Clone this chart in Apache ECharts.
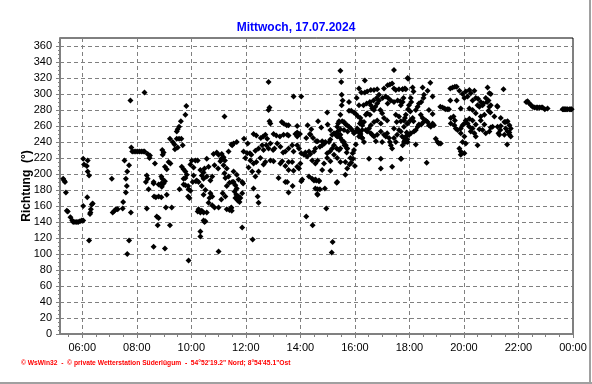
<!DOCTYPE html>
<html>
<head>
<meta charset="utf-8">
<script src="https://cdn.jsdelivr.net/npm/echarts@6/dist/echarts.min.js"></script>
<style>
html,body{margin:0;padding:0;background:#fff;}
#chart{width:592px;height:384px;}
</style>
</head>
<body>
<div id="chart"></div>
<script>
// ---- texts ----
const chartTitle = 'Mittwoch, 17.07.2024';
const yAxisName = 'Richtung  (°)';
const footerText = '\u00A9 WsWin32  -  \u00A9 private Wetterstation S\u00FCderl\u00FCgum  -  54\u00B052\'19.2" Nord; 8\u00B054\'45.1"Ost';

// ---- axis ticks ----
const xMinMinute = 311;   // 05:11
const xMaxMinute = 1440;  // 24:00
const xTickMinutes = [360, 480, 600, 720, 840, 960, 1080, 1200, 1320, 1440];
const xTickLabels = ['06:00', '08:00', '10:00', '12:00', '14:00', '16:00', '18:00', '20:00', '22:00', '00:00'];
const xMinorMinutes = [330, 390, 420, 450, 510, 540, 570, 630, 660, 690, 750, 780, 810, 870, 900, 930, 990, 1020, 1050, 1110, 1140, 1170, 1230, 1260, 1290, 1350, 1380, 1410];
const yTicks = [0, 20, 40, 60, 80, 100, 120, 140, 160, 180, 200, 220, 240, 260, 280, 300, 320, 340, 360];
const yMinorTicks = [5, 10, 15, 25, 30, 35, 45, 50, 55, 65, 70, 75, 85, 90, 95, 105, 110, 115, 125, 130, 135, 145, 150, 155, 165, 170, 175, 185, 190, 195, 205, 210, 215, 225, 230, 235, 245, 250, 255, 265, 270, 275, 285, 290, 295, 305, 310, 315, 325, 330, 335, 345, 350, 355, 365];

// ---- wind direction observations: [minute of day, degrees] ----
const morning = [
[318,194],[320,192],[322,190],[324,177],[326,154],[328,153],[334,146],[338,142],[340,140],[344,140],[348,140],[351,140],[355,141],[359,142],[362,142],
[362,160],[362,219],[364,212],[370,210],[372,217],[372,203],[375,198],[371,171],[375,117],[377,150],[378,152],[379,156],[381,162],[383,163],
[425,194],[427,152],[431,154],[434,156],[438,156],[449,157],[450,165],[453,217],[456,194],[456,177],[458,185],[459,203],[459,100],[463,211],[463,117],[466,292],[467,152],[468,233],
[470,228],[474,228],[478,228],[482,228],[486,228],[490,228],[494,228],[497,228],[497,302],
[500,190],[502,198],[502,157],[504,225],[504,194],[506,181],[508,220],[509,223],[517,190],[517,109],[518,172],[520,213],[524,147],[526,136],[528,145],[522,171],[528,172],[534,171],[517,188],[528,187],[534,188],
[534,197],[535,184],[536,194],[536,230],[537,224],[539,227],[539,188],[542,191],[542,209],[542,107],[544,158],[546,206],[546,174],[550,215],[553,136],[554,213],[553,244],[557,158],
[559,240],[563,237],[564,231],[568,244],[568,253],[570,256],[570,233],[573,259],[573,244],[574,181],[577,266],[578,244],[579,209],[581,236],[583,206],[583,194],[583,187],
[587,274],[587,203],[587,195],[587,186],[589,285],[590,199],[593,172],[593,185],[594,181],[594,92],[596,170],[598,212],[598,179]
];

const midday = [
[601,217],[603,190],[605,208],[605,198],[609,217],[610,191],[612,192],[614,217],[614,153],[616,190],[616,156],[620,205],[620,152],[620,128],[620,122],
[623,198],[623,185],[623,154],[627,202],[627,194],[627,174],[627,152],[627,142],[629,207],[629,140],[631,180],[631,141],[634,219],[634,197],[634,152],
[638,209],[638,164],[640,170],[642,192],[642,176],[646,197],[646,172],[646,161],[649,225],[651,211],[651,158],[656,227],[659,207],[660,224],[660,158],[660,103],
[664,216],[666,219],[666,168],[667,225],[669,176],[671,221],[671,211],[673,272],[673,201],[674,217],[675,195],[675,172],[678,207],[678,185],[678,156],
[682,228],[682,197],[684,189],[684,155],[688,237],[688,158],[690,190],
[687,157],[689,154],[693,190],[695,178],[697,186],[697,170],[699,174],[700,182],[702,167],[704,172],[706,165],[708,170],[712,176],[712,133],[714,188],
[700,240],[716,244],[724,238],[693,238],[690,236],
[737,250],[743,248],[753,245],[758,247],[763,249],[767,244],[781,250],[787,248],[795,247],[803,249],[811,249],[814,248],[829,250],[833,252],[839,250],
[715,228],[723,226],[729,226],[732,224],[741,229],[748,232],[756,236],[759,230],[765,236],[770,232],[774,238],[780,230],[783,232],[789,238],[796,234],
[802,227],[807,228],[814,232],[822,236],[825,228],[833,236],[837,232],
[719,220],[730,217],[737,213],[743,215],[752,220],[759,212],[763,215],[774,217],[781,216],[796,213],[800,216],[807,210],[814,215],[822,215],[833,209],
[693,203],[700,199],[704,193],[712,190],[726,208],[734,203],[741,197],[748,203],[792,195],[807,190],[814,205],[825,204],[837,207],
[737,182],[746,172],[748,164],[735,118],[811,190],[814,177],[823,185],
[770,315],[825,297],[770,280],[772,283],[772,266],[774,263],[799,265],[803,263],[810,261],[814,261],[833,260],[836,250],[833,247]
];

const afternoon = [
[842,297],[842,226],[851,227],[859,228],[862,225],[870,228],[873,232],[883,234],[888,236],[893,238],[899,226],[905,228],[910,232],[914,236],[920,232],[925,230],[928,232],[934,240],[937,236],[943,232],
[840,213],[848,224],[855,222],[866,217],[873,213],[878,217],[892,213],[899,220],[906,216],[914,224],[921,220],[928,215],[939,215],[950,220],[956,219],
[844,193],[859,197],[866,194],[873,193],[881,191],[888,205],[906,204],[921,190],[939,199],[943,207],[948,212],[952,214],[960,210],
[842,191],[853,147],[867,136],[870,192],[873,182],[875,192],[877,175],[878,181],[878,174],[881,192],[883,181],[894,182],[897,157],[911,115],[909,102],[920,189],
[853,245],[862,249],[868,245],[875,241],[878,241],[888,241],[895,240],[903,240],[906,243],[910,249],[914,251],[920,250],[922,253],[928,249],
[856,261],[861,250],[879,266],[899,277],[864,256],[886,258],[900,262],[906,255],
[928,329],[930,315],[931,299],[933,292],[931,286],[947,290],[969,307],[974,302],[982,302],[987,303],[995,305],[1002,305],[1009,306],[1013,299],[1008,295],[1001,292],[993,290],[986,288],[979,286],[969,286],[964,295],
[1046,330],[982,317],[1024,307],[1032,311],[1037,312],[1042,313],[1046,307],[1050,305],[1057,306],[1065,306],[1072,306],[1076,320],
[1028,297],[1033,295],[1039,292],[1046,290],[1054,292],[1060,291],[1065,290],[1067,295],[1061,286],[1032,288],[1021,295],
[995,286],[998,282],[1002,280],[1005,284],[1009,288],[1013,292],[1016,280],[1020,276],
[947,279],[952,279],[958,277],[962,275],[967,272],[972,270],[974,266],[971,263],[976,261],[980,265],[984,274],[987,276],[993,274],[976,255],[972,251],[969,247],[976,245],
[928,274],[932,266],[936,265],[940,262],[943,261],[947,259],[951,257],[955,254],[958,251],[962,253],[966,255],[969,252],[944,253],[936,255],[928,256],[925,266],[923,263],[921,259],
[918,249],[921,247],[925,249],[928,245],[932,242],[936,240],[940,236],[943,232],[942,227],[955,226],[958,230],[962,237],
[965,257],[969,253],[972,249],[976,245],[980,240],[984,255],[987,253],[995,251],[998,249],[1002,247],[1006,241],[1009,249],[1017,253],[1020,240],[1024,249],[1028,247],[1031,251],[1035,245],[1039,236],[1042,232],[1037,240],
[1046,245],[1050,240],[1053,249],[1057,255],[1061,253],[1064,247],[1068,245],[1072,240],[1075,243],[1079,249],
[1046,257],[1052,265],[1061,266],[1068,267],[1075,263],[1057,272],[1050,274],[1031,267],[1024,270],[1017,263],[1009,267],[1002,265],[995,261],[991,257],
[991,219],[1017,207],[1042,209],[1062,219],[1017,219]
];

const evening = [
[1077,319],[1126,314],[1070,307],[1065,306],[1087,308],[1089,303],[1083,295],[1084,290],[1079,286],[1077,281],[1082,278],[1072,274],[1070,270],
[1109,308],[1120,304],[1131,297],[1112,299],[1111,295],[1106,290],[1101,288],[1098,284],[1094,280],[1105,274],[1109,270],[1116,267],[1120,265],[1123,261],[1127,259],[1131,263],[1134,261],[1123,280],[1131,275],
[1111,265],[1106,262],[1101,262],[1098,259],[1094,255],[1090,253],[1083,251],[1079,249],[1072,247],[1070,242],[1076,240],[1068,240],[1065,236],[1074,252],[1068,259],[1076,263],[1082,267],[1087,270],[1089,266],
[1094,237],[1138,244],[1142,240],[1145,238],[1149,238],[1118,214],[1061,219],
[1170,307],[1175,308],[1180,309],[1184,309],[1190,304],[1197,300],[1204,303],[1212,305],[1215,301],[1208,297],[1201,295],[1219,292],[1223,304],[1226,295],[1231,294],[1237,290],[1243,288],[1248,295],[1252,308],[1256,301],[1259,300],[1254,292],[1251,290],[1256,284],[1259,286],[1241,286],[1234,284],[1230,286],[1287,306],
[1148,284],[1153,283],[1157,282],[1160,281],[1164,281],[1167,281],[1170,292],[1184,292],
[1193,282],[1212,282],[1219,280],[1226,276],[1237,272],[1245,274],[1254,279],[1258,277],[1267,272],[1273,285],[1274,284],[1281,270],[1289,265],[1292,265],[1296,266],[1300,261],[1303,257],[1296,253],[1300,249],[1303,247],[1292,257],
[1171,270],[1177,272],[1180,267],[1171,263],[1179,261],[1182,257],[1186,255],[1193,257],[1197,261],[1201,263],[1204,267],[1208,263],[1212,259],[1219,257],[1215,253],[1223,251],[1226,247],[1234,256],[1241,255],[1248,251],[1256,253],[1259,258],[1263,259],
[1193,251],[1201,247],[1197,240],[1204,238],[1190,232],[1193,228],[1201,226],[1193,224],[1230,236],[1212,269],[1237,267],[1245,262],[1226,262],[1219,267],
[1274,259],[1280,255],[1281,260],[1276,251],[1278,249],[1289,249],[1295,237],[1300,252],
[1337,290],[1340,291],[1344,288],[1348,286],[1351,284],[1355,283],[1359,283],[1362,283],[1366,283],[1370,283],[1373,283],[1378,281],[1384,282],
[1417,281],[1419,281],[1421,281],[1423,281],[1425,281],[1428,281],[1432,281],[1435,281],[1437,281]
];

const FONT = 'Liberation Sans, Arial, sans-serif';
const chart = echarts.init(document.getElementById('chart'), null, {renderer: 'canvas'});
const allPoints = morning.concat(midday, afternoon, evening);

const option = {
  animation: false,
  backgroundColor: '#ffffff',
  title: {
    text: chartTitle,
    left: 'center',
    top: 17,
    textStyle: {color: '#0000ff', fontSize: 12, fontWeight: 'bold', fontFamily: FONT}
  },
  grid: {
    left: 60, right: 19, top: 38, bottom: 50,
    show: true, borderColor: '#000000', borderWidth: 1, backgroundColor: '#ffffff',
    containLabel: false
  },
  xAxis: [
    {
      type: 'value', min: xMinMinute, max: xMaxMinute, position: 'bottom',
      axisLine: {show: true, lineStyle: {color: '#808080', width: 2}},
      axisTick: {show: true, customValues: xTickMinutes, length: 4, lineStyle: {color: '#808080'}},
      axisLabel: {
        customValues: xTickMinutes, margin: 8, color: '#000', fontSize: 11, fontFamily: FONT,
        formatter: v => { const i = xTickMinutes.indexOf(v); return i >= 0 ? xTickLabels[i] : ''; }
      },
      splitLine: {show: true, lineStyle: {color: '#808080', type: [4, 3], width: 1}}
    },
    {
      type: 'value', min: xMinMinute, max: xMaxMinute, position: 'bottom',
      axisLine: {show: false},
      axisTick: {show: true, customValues: xMinorMinutes, length: 3, lineStyle: {color: '#808080'}},
      axisLabel: {show: false},
      splitLine: {show: false}
    }
  ],
  yAxis: [
    {
      type: 'value', min: 0, max: 370, position: 'left',
      axisLine: {show: true, lineStyle: {color: '#808080', width: 2}},
      axisTick: {show: true, customValues: yTicks, length: 4, lineStyle: {color: '#808080'}},
      axisLabel: {customValues: yTicks, margin: 8, color: '#000', fontSize: 11, fontFamily: FONT},
      splitLine: {show: true, lineStyle: {color: '#808080', type: [4, 3], width: 1}}
    },
    {
      type: 'value', min: 0, max: 370, position: 'left',
      axisLine: {show: false},
      axisTick: {show: true, customValues: yMinorTicks, length: 2, lineStyle: {color: '#808080'}},
      axisLabel: {show: false},
      splitLine: {show: false}
    }
  ],
  series: [{
    type: 'scatter',
    xAxisIndex: 0, yAxisIndex: 0,
    data: allPoints,
    symbol: 'diamond',
    symbolSize: 6,
    itemStyle: {color: '#000000', opacity: 1},
    z: 3
  }],
  graphic: [
    {type: 'text', x: 27, y: 186, rotation: Math.PI / 2,
     style: {text: yAxisName, fill: '#000', font: 'bold 12px ' + FONT, align: 'center', verticalAlign: 'middle'}},
    {type: 'text', left: 21, top: 360, style: {text: footerText, fill: '#ff0000', font: 'bold 6.7px ' + FONT}},
    {type: 'rect', shape: {x: 589, y: 0, width: 2, height: 384}, style: {fill: '#a0a0a0'}, silent: true},
    {type: 'rect', shape: {x: 0, y: 382, width: 592, height: 2}, style: {fill: '#a0a0a0'}, silent: true}
  ]
};
chart.setOption(option);
</script>
</body>
</html>
